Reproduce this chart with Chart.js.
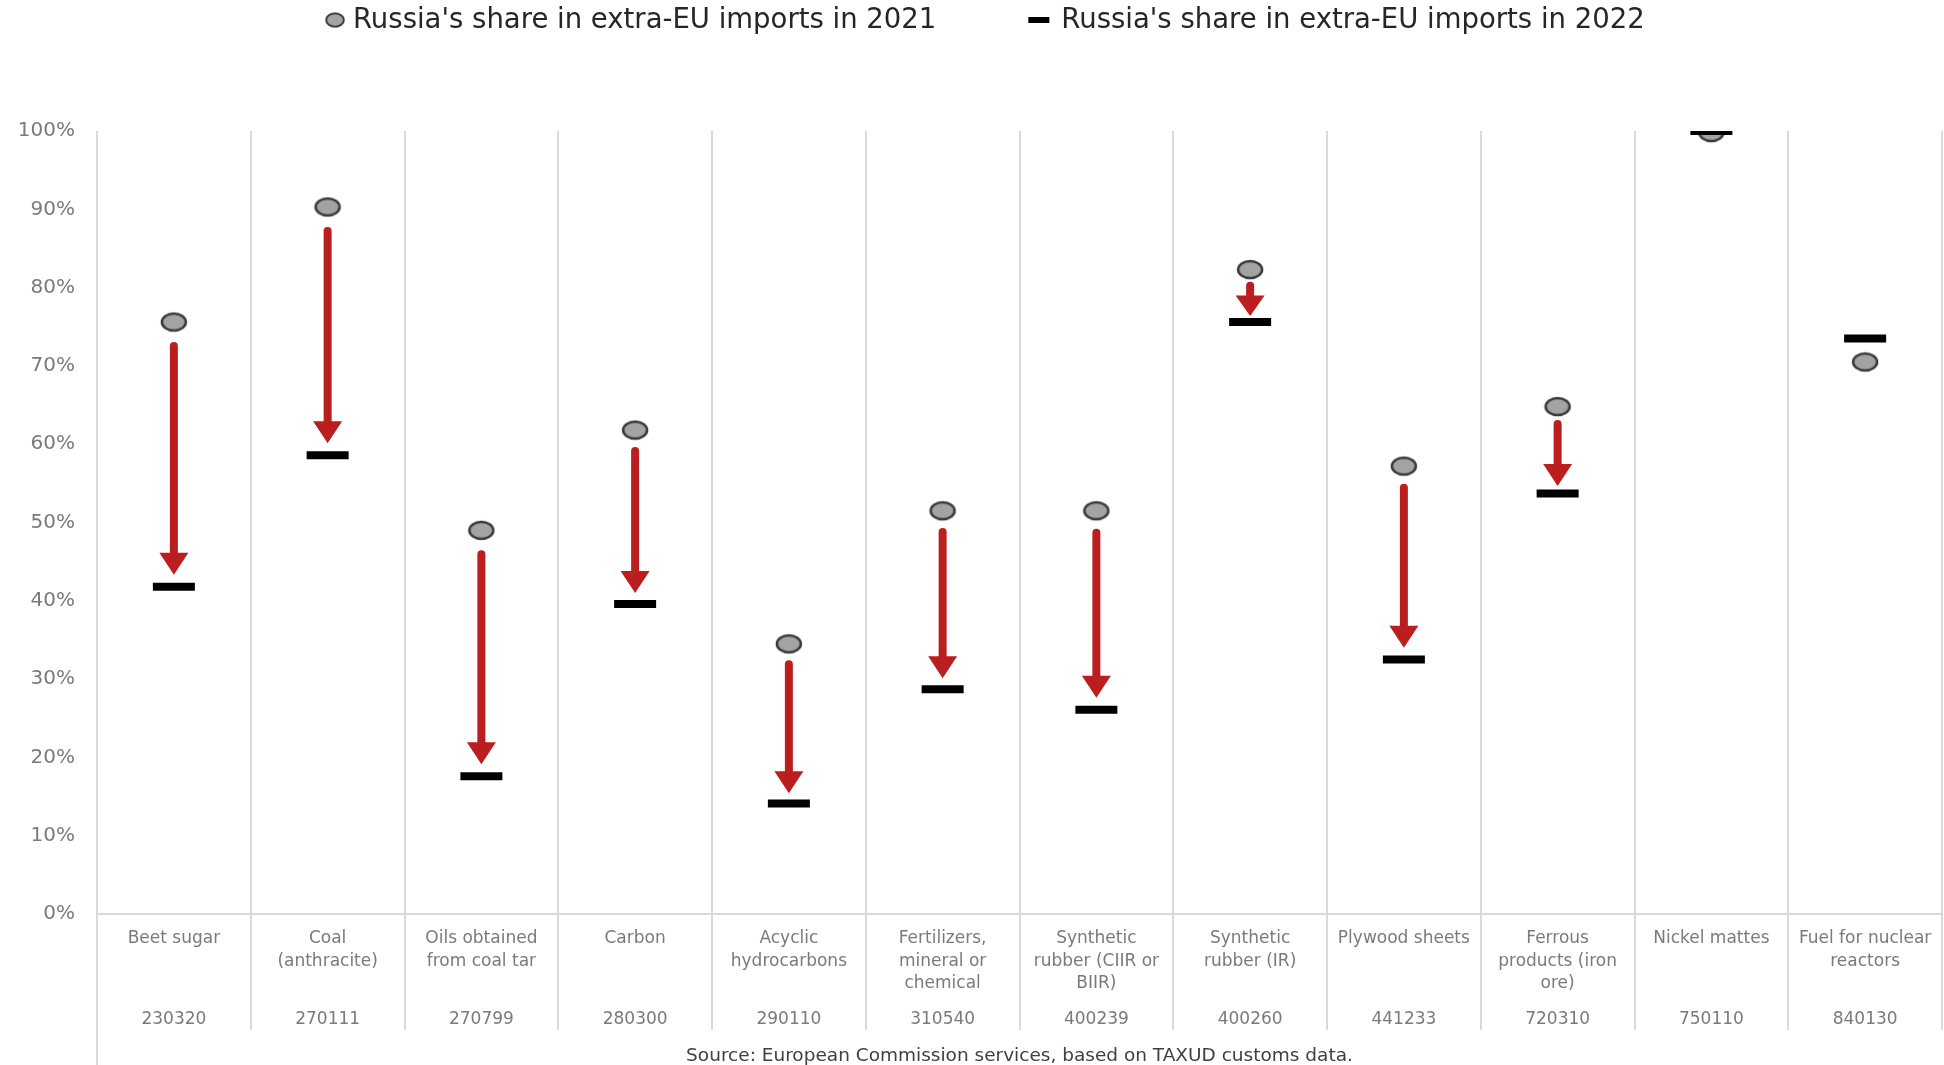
<!DOCTYPE html>
<html>
<head>
<meta charset="utf-8">
<script src="https://cdn.jsdelivr.net/npm/chart.js@4.4.0/dist/chart.umd.min.js"></script>
<style>
  html, body { margin: 0; padding: 0; background: #fff; }
</style>
</head>
<body>
<canvas id="myChart" width="1944" height="1065"></canvas>
<script>
const labels = [
  ['Beet sugar'],
  ['Coal', '(anthracite)'],
  ['Oils obtained', 'from coal tar'],
  ['Carbon'],
  ['Acyclic', 'hydrocarbons'],
  ['Fertilizers,', 'mineral or', 'chemical'],
  ['Synthetic', 'rubber (CIIR or', 'BIIR)'],
  ['Synthetic', 'rubber (IR)'],
  ['Plywood sheets'],
  ['Ferrous', 'products (iron', 'ore)'],
  ['Nickel mattes'],
  ['Fuel for nuclear', 'reactors']
];
const codes = ['230320', '270111', '270799', '280300', '290110', '310540',
               '400239', '400260', '441233', '720310', '750110', '840130'];

// share in %
const share2021 = [75.6, 90.3, 49.0, 61.8, 34.5, 51.5, 51.5, 82.3, 57.2, 64.8, 99.8, 70.5];
const share2022 = [41.8, 58.6, 17.6, 39.6, 14.1, 28.7, 26.1, 75.6, 32.5, 53.7, 100, 73.5];

const name2021 = "Russia's share in extra-EU imports in 2021";
const name2022 = "Russia's share in extra-EU imports in 2022";
const sourceText = 'Source: European Commission services, based on TAXUD customs data.';

const FONT = '"DejaVu Sans", Verdana, sans-serif';
const gridGrey = '#d9d9d9';
const labelGrey = '#7a7a7a';
const arrowRed = '#bb1e1e';

// grey ellipse used as the 2021 marker
function makeDot(w, h) {
  const c = document.createElement('canvas');
  c.width = w + 4;
  c.height = h + 4;
  const g = c.getContext('2d');
  g.beginPath();
  g.ellipse(c.width / 2, c.height / 2, w / 2 - 1, h / 2 - 1, 0, 0, Math.PI * 2);
  g.fillStyle = '#a3a3a3';
  g.fill();
  g.lineWidth = 2.5;
  g.strokeStyle = '#3a3a3a';
  g.stroke();
  return c;
}
const dot = makeDot(26, 19);

// red arrows from the 2021 value down to the 2022 value
const arrowPlugin = {
  id: 'dropArrows',
  afterDatasetsDraw(chart) {
    const ctx = chart.ctx;
    const x = chart.scales.x, y = chart.scales.y;
    ctx.save();
    ctx.fillStyle = arrowRed;
    ctx.strokeStyle = arrowRed;
    share2021.forEach(function(v, i) {
      const w = share2022[i];
      if (v - w < 3) return;
      const px = x.getPixelForValue(i);
      const y1 = y.getPixelForValue(v);
      const y2 = y.getPixelForValue(w);
      const d = y2 - y1;
      const top = y1 + Math.min(20, 10 + 0.04 * d);
      const tip = y2 - Math.min(12, 4 + 0.04 * d);
      const headH = Math.min(22, 0.6 * (tip - top));
      const headW = Math.min(29, headH * 1.45);
      ctx.lineWidth = 8;
      ctx.lineCap = 'round';
      ctx.beginPath();
      ctx.moveTo(px, top + 4);
      ctx.lineTo(px, tip - headH + 1);
      ctx.stroke();
      ctx.beginPath();
      ctx.moveTo(px - headW / 2, tip - headH);
      ctx.lineTo(px + headW / 2, tip - headH);
      ctx.lineTo(px, tip);
      ctx.closePath();
      ctx.fill();
    });
    ctx.restore();
  }
};

// legend on top, source below, left frame line
const decorPlugin = {
  id: 'decor',
  afterDraw(chart) {
    const ctx = chart.ctx;
    const area = chart.chartArea;
    ctx.save();
    ctx.font = '27.5px ' + FONT;
    ctx.textBaseline = 'middle';
    ctx.fillStyle = '#262626';
    const ly = 20;
    // item 1
    ctx.drawImage(dot, 335 - 11, ly - 9, 22, 18);
    ctx.fillText(name2021, 353, ly + 1);
    const x2 = 353 + ctx.measureText(name2021).width + 92;
    // item 2
    ctx.fillStyle = '#000';
    ctx.fillRect(x2, ly - 3, 21, 6);
    ctx.fillStyle = '#262626';
    ctx.fillText(name2022, x2 + 33, ly + 1);

    ctx.font = '18.5px ' + FONT;
    ctx.fillStyle = '#404040';
    ctx.textAlign = 'center';
    ctx.fillText(sourceText, (area.left + area.right) / 2, 1056);

    ctx.strokeStyle = gridGrey;
    ctx.lineWidth = 2;
    ctx.beginPath();
    ctx.moveTo(area.left, 1028);
    ctx.lineTo(area.left, 1065);
    ctx.stroke();
    ctx.restore();
  }
};

function noSidePadding(s, h) {
  s.height = h;
  s.paddingLeft = 0;
  s.paddingRight = 0;
}

const data = {
  labels: labels,
  datasets: [
    {
      label: name2021,
      data: share2021,
      showLine: false,
      pointStyle: dot,
      pointRadius: 12,
      order: 1
    },
    {
      label: name2022,
      data: share2022,
      showLine: false,
      pointStyle: 'line',
      pointRadius: 21,
      pointBorderWidth: 8,
      pointBorderColor: '#000',
      order: 0
    }
  ]
};

const config = {
  type: 'line',
  data: data,
  options: {
    responsive: false,
    animation: false,
    devicePixelRatio: 1,
    layout: { autoPadding: false, padding: { top: 131, right: 2, bottom: 30, left: 0 } },
    plugins: {
      legend: { display: false },
      tooltip: { enabled: false }
    },
    scales: {
      x: {
        type: 'category',
        position: 'bottom',
        offset: true,
        grid: { offset: true, color: gridGrey, lineWidth: 2, tickLength: 90, tickColor: gridGrey },
        border: { display: true, color: gridGrey, width: 2 },
        ticks: {
          autoSkip: false, maxRotation: 0, padding: -76,
          color: labelGrey,
          font: { family: FONT, size: 17, lineHeight: 1.3 }
        },
        afterFit: function(s) { noSidePadding(s, 90); }
      },
      x2: {
        type: 'category',
        labels: codes,
        position: 'bottom',
        offset: true,
        grid: { offset: true, drawOnChartArea: false, color: gridGrey, lineWidth: 2, tickLength: 26, tickColor: gridGrey },
        border: { display: false },
        ticks: {
          autoSkip: false, maxRotation: 0, padding: -21,
          color: labelGrey,
          font: { family: FONT, size: 17, lineHeight: 1.3 }
        },
        afterFit: function(s) { noSidePadding(s, 31); }
      },
      y: {
        min: 0,
        max: 100,
        grid: { display: false, drawTicks: false },
        border: { display: false },
        ticks: {
          stepSize: 10,
          padding: 22,
          color: labelGrey,
          font: { family: FONT, size: 20 },
          callback: function(v) { return v + '%'; }
        },
        afterFit: function(s) { s.width = 97; }
      }
    }
  },
  plugins: [arrowPlugin, decorPlugin]
};

var myChart = new Chart(document.getElementById('myChart'), config);
</script>
</body>
</html>
